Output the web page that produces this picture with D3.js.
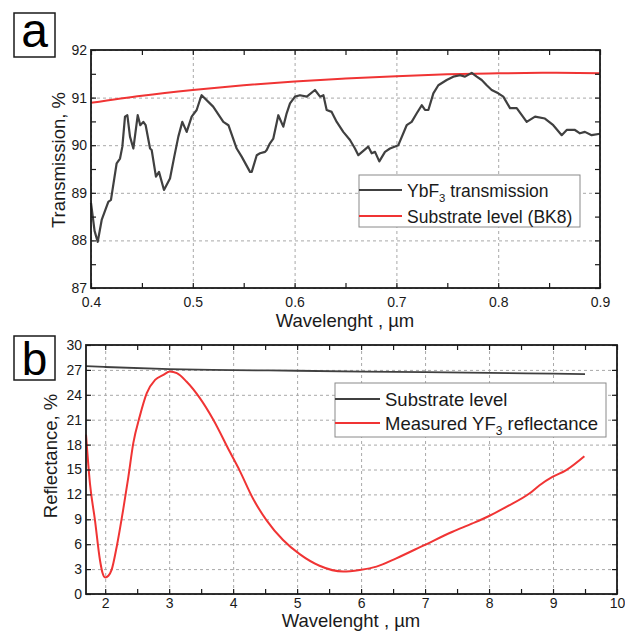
<!DOCTYPE html>
<html>
<head>
<meta charset="utf-8">
<script src="https://cdn.jsdelivr.net/npm/d3@7"></script>
<style>
    body { margin: 0; background: #ffffff; }
    svg text { font-family: "Liberation Sans", Arial, sans-serif; fill: #1a1a1a; }
</style>
</head>
<body>
<div id="chart"></div>
<script>
// panel a - YbF3 transmission vs BK8 substrate
const transWl = [0.400, 0.4035, 0.4066, 0.4105, 0.4170, 0.4196, 0.4252, 0.4285, 0.4308, 0.4334, 0.4357, 0.4383, 0.4416, 0.4459, 0.4484, 0.4514, 0.4537, 0.4580, 0.4596, 0.4638, 0.4668, 0.4717, 0.4776, 0.4818, 0.4858, 0.4897, 0.4940, 0.4989, 0.5038, 0.5070, 0.5087, 0.5200, 0.5300, 0.5350, 0.5431, 0.5480, 0.5562, 0.5579, 0.5628, 0.5660, 0.5710, 0.5726, 0.5758, 0.5791, 0.5840, 0.5889, 0.5922, 0.5955, 0.6004, 0.6053, 0.6120, 0.6200, 0.6250, 0.6283, 0.6315, 0.6364, 0.6414, 0.6478, 0.6544, 0.6593, 0.6626, 0.6724, 0.6757, 0.6790, 0.6832, 0.6888, 0.6937, 0.7019, 0.7101, 0.7150, 0.7200, 0.7249, 0.7281, 0.7314, 0.7363, 0.7412, 0.7494, 0.7559, 0.7625, 0.7674, 0.7740, 0.7789, 0.7838, 0.7887, 0.7936, 0.8001, 0.8050, 0.8116, 0.8182, 0.8280, 0.8362, 0.8459, 0.8541, 0.8624, 0.8673, 0.8754, 0.8803, 0.8852, 0.8918, 0.9000];
const transVal = [88.79, 88.20, 87.97, 88.43, 88.81, 88.85, 89.62, 89.72, 89.97, 90.60, 90.63, 90.18, 89.93, 90.63, 90.42, 90.49, 90.42, 89.93, 89.90, 89.34, 89.44, 89.06, 89.30, 89.76, 90.18, 90.49, 90.28, 90.60, 90.74, 90.95, 91.05, 90.81, 90.49, 90.42, 89.93, 89.76, 89.44, 89.44, 89.79, 89.83, 89.86, 89.90, 90.04, 90.14, 90.63, 90.39, 90.67, 90.88, 91.02, 91.05, 91.02, 91.16, 91.02, 91.05, 90.74, 90.70, 90.49, 90.28, 90.11, 89.93, 89.79, 89.97, 89.83, 89.86, 89.66, 89.86, 89.93, 90.00, 90.42, 90.49, 90.67, 90.84, 90.74, 90.74, 91.09, 91.26, 91.37, 91.44, 91.47, 91.44, 91.52, 91.44, 91.37, 91.26, 91.16, 91.09, 91.02, 90.78, 90.78, 90.49, 90.60, 90.56, 90.42, 90.21, 90.32, 90.32, 90.25, 90.28, 90.21, 90.24];
const bk8Wl = [0.40, 0.45, 0.50, 0.55, 0.60, 0.65, 0.70, 0.75, 0.80, 0.85, 0.90];
const bk8Val = [90.89, 91.04, 91.16, 91.26, 91.34, 91.40, 91.45, 91.49, 91.51, 91.52, 91.51];
const transTicksX = [0.4, 0.5, 0.6, 0.7, 0.8, 0.9];
const transMinorX = [0.45, 0.55, 0.65, 0.75, 0.85];
const transTicksY = [87, 88, 89, 90, 91, 92];
const transMinorY = [87.5, 88.5, 89.5, 90.5, 91.5];

// panel b - YF3 reflectance vs substrate
const subWl = [1.7, 2, 3, 4, 5, 6, 7, 8, 9, 9.5];
const subVal = [27.45, 27.35, 27.1, 26.98, 26.9, 26.8, 26.72, 26.65, 26.55, 26.5];
const reflWl = [1.70, 1.762, 1.84, 1.918, 1.96, 2.00, 2.05, 2.10, 2.18, 2.28, 2.36, 2.44, 2.54, 2.65, 2.78, 2.91, 3.01, 3.12, 3.27, 3.48, 3.69, 3.95, 4.10, 4.31, 4.52, 4.78, 5.04, 5.35, 5.72, 5.98, 6.24, 6.55, 6.99, 7.43, 7.74, 8.00, 8.27, 8.63, 8.79, 8.99, 9.20, 9.49];
const reflVal = [19.2, 13.3, 8.9, 4.1, 2.5, 2.0, 2.2, 2.9, 5.7, 10.1, 14.0, 18.2, 21.4, 24.2, 25.8, 26.4, 26.8, 26.6, 25.6, 23.6, 21.0, 17.1, 14.9, 11.5, 8.9, 6.5, 4.8, 3.4, 2.7, 2.9, 3.3, 4.3, 5.9, 7.5, 8.5, 9.4, 10.5, 12.1, 13.1, 14.1, 14.9, 16.6];
const reflTicksX = [2, 3, 4, 5, 6, 7, 8, 9, 10];
const reflMinorX = [2.5, 3.5, 4.5, 5.5, 6.5, 7.5, 8.5, 9.5];
const reflTicksY = [0, 3, 6, 9, 12, 15, 18, 21, 24, 27, 30];

const darkLine = '#404040';
const redLine = '#f03434';

let svg = d3.select('#chart')
    .append('svg')
    .attr('width', 625)
    .attr('height', 631);

function zip(xs, ys) {
    return xs.map(function (x, i) { return [x, ys[i]]; });
}

function drawPanel(p) {
    let x = d3.scaleLinear().domain(p.xDomain).range([p.left, p.right]);
    let y = d3.scaleLinear().domain(p.yDomain).range([p.bottom, p.top]);
    let w = p.right - p.left, h = p.bottom - p.top;

    // dashed grid at major ticks
    let grid = svg.append('g');
    grid.append('g')
        .attr('transform', 'translate(0,' + p.bottom + ')')
        .call(d3.axisBottom(x).tickValues(p.ticksX).tickSize(-h).tickFormat(''));
    grid.append('g')
        .attr('transform', 'translate(' + p.left + ',0)')
        .call(d3.axisLeft(y).tickValues(p.ticksY).tickSize(-w).tickFormat(''));
    grid.selectAll('.domain').remove();
    grid.selectAll('line')
        .style('stroke', '#a8a8a8')
        .style('stroke-width', 1)
        .style('stroke-dasharray', '3,3');

    // curves
    p.series.forEach(function (s) {
        let line = d3.line()
            .x(function (d) { return x(d[0]); })
            .y(function (d) { return y(d[1]); })
            .curve(s.curve);
        svg.append('path')
            .datum(zip(s.xs, s.ys))
            .attr('d', line)
            .style('fill', 'none')
            .style('stroke', s.color)
            .style('stroke-width', s.width)
            .style('stroke-linejoin', 'round');
    });

    // inward ticks on all four sides
    let ax = svg.append('g');
    let allX = p.ticksX.concat(p.minorX);
    let allY = p.ticksY.concat(p.minorY);
    ax.append('g').attr('transform', 'translate(0,' + p.bottom + ')')
        .call(d3.axisBottom(x).tickValues(allX).tickSize(-5).tickFormat(''));
    ax.append('g').attr('transform', 'translate(0,' + p.top + ')')
        .call(d3.axisTop(x).tickValues(allX).tickSize(-5).tickFormat(''));
    ax.append('g').attr('transform', 'translate(' + p.left + ',0)')
        .call(d3.axisLeft(y).tickValues(allY).tickSize(-5).tickFormat(''));
    ax.append('g').attr('transform', 'translate(' + p.right + ',0)')
        .call(d3.axisRight(y).tickValues(allY).tickSize(-5).tickFormat(''));
    ax.selectAll('.domain').remove();
    ax.selectAll('line').style('stroke', '#1a1a1a').style('stroke-width', 1.2);

    // tick labels
    let lx = svg.append('g').attr('transform', 'translate(0,' + p.bottom + ')')
        .call(d3.axisBottom(x).tickValues(p.ticksX).tickSize(0).tickPadding(p.padX).tickFormat(p.fmtX));
    let ly = svg.append('g').attr('transform', 'translate(' + p.left + ',0)')
        .call(d3.axisLeft(y).tickValues(p.ticksY).tickSize(0).tickPadding(4).tickFormat(d3.format('d')));
    [lx, ly].forEach(function (g) {
        g.select('.domain').remove();
        g.selectAll('text').style('font-size', '14px').style('fill', '#1a1a1a')
            .style('font-family', '"Liberation Sans", Arial, sans-serif');
    });

    // frame
    svg.append('rect')
        .attr('x', p.left).attr('y', p.top)
        .attr('width', w).attr('height', h)
        .style('fill', 'none')
        .style('stroke', '#1a1a1a')
        .style('stroke-width', 1.8);

    // axis titles
    svg.append('text')
        .attr('x', p.titleX[0]).attr('y', p.titleX[1])
        .attr('text-anchor', 'middle')
        .style('font-size', p.titleSize + 'px')
        .text('Wavelenght , \u00b5m');
    svg.append('text')
        .attr('transform', 'translate(' + p.titleY[0] + ',' + p.titleY[1] + ') rotate(-90)')
        .attr('text-anchor', 'middle')
        .style('font-size', p.titleSize + 'px')
        .text(p.yTitle);

    // legend
    let lg = p.legend;
    svg.append('rect')
        .attr('x', lg.x).attr('y', lg.y)
        .attr('width', lg.w).attr('height', lg.h)
        .style('fill', '#ffffff')
        .style('stroke', '#8a8a8a')
        .style('stroke-width', 1);
    lg.items.forEach(function (it, i) {
        let ry = lg.rows[i];
        svg.append('line')
            .attr('x1', lg.x).attr('x2', lg.x + lg.sample)
            .attr('y1', ry).attr('y2', ry)
            .style('stroke', it.color)
            .style('stroke-width', 2);
        let t = svg.append('text')
            .attr('x', lg.x + lg.sample + 5)
            .attr('y', ry + 6.5)
            .style('font-size', lg.size + 'px');
        t.append('tspan').text(it.label[0]);
        if (it.label[1]) {
            t.append('tspan').attr('dy', 5).style('font-size', (lg.size * 0.65) + 'px').text(it.label[1]);
            t.append('tspan').attr('dy', -5).text(it.label[2]);
        }
    });

    // panel letter in a box
    svg.append('rect')
        .attr('x', p.box[0]).attr('y', p.box[1])
        .attr('width', 41).attr('height', 44)
        .style('fill', '#ffffff')
        .style('stroke', '#1a1a1a')
        .style('stroke-width', 1.5);
    svg.append('text')
        .attr('x', p.box[0] + 20.5).attr('y', p.box[1] + p.letterDy)
        .attr('text-anchor', 'middle')
        .style('font-family', '"Liberation Sans", Arial, sans-serif')
        .style('font-size', p.letterSize + 'px')
        .style('fill', '#000')
        .text(p.letter);
}

drawPanel({
    left: 91, right: 600, top: 50, bottom: 288,
    xDomain: [0.4, 0.9], yDomain: [87, 92],
    ticksX: transTicksX, minorX: transMinorX,
    ticksY: transTicksY, minorY: transMinorY,
    fmtX: d3.format('.1f'), padX: 9,
    series: [
        { xs: bk8Wl, ys: bk8Val, color: redLine, width: 2, curve: d3.curveMonotoneX },
        { xs: transWl, ys: transVal, color: darkLine, width: 2.2, curve: d3.curveLinear }
    ],
    titleX: [345, 327], titleY: [65, 160], titleSize: 18.5,
    yTitle: 'Transmission, %',
    legend: {
        x: 359, y: 175, w: 221, h: 52, sample: 43, size: 17.5, rows: [190, 216],
        items: [
            { color: darkLine, label: ['YbF', '3', ' transmission'] },
            { color: redLine, label: ['Substrate level (BK8)'] }
        ]
    },
    box: [14, 13], letter: 'a', letterDy: 34, letterSize: 48
});

drawPanel({
    left: 86, right: 617, top: 345, bottom: 594,
    xDomain: [1.7, 10], yDomain: [0, 30],
    ticksX: reflTicksX, minorX: reflMinorX,
    ticksY: reflTicksY, minorY: [],
    fmtX: d3.format('d'), padX: 4,
    series: [
        { xs: subWl, ys: subVal, color: darkLine, width: 1.8, curve: d3.curveMonotoneX },
        { xs: reflWl, ys: reflVal, color: redLine, width: 2, curve: d3.curveMonotoneX }
    ],
    titleX: [351, 627], titleY: [57, 456], titleSize: 18.5,
    yTitle: 'Reflectance, %',
    legend: {
        x: 335, y: 383, w: 271, h: 54, sample: 45, size: 18.5, rows: [399, 423],
        items: [
            { color: darkLine, label: ['Substrate level'] },
            { color: redLine, label: ['Measured YF', '3', ' reflectance'] }
        ]
    },
    box: [14, 336], letter: 'b', letterDy: 39, letterSize: 46
});
</script>
</body>
</html>
